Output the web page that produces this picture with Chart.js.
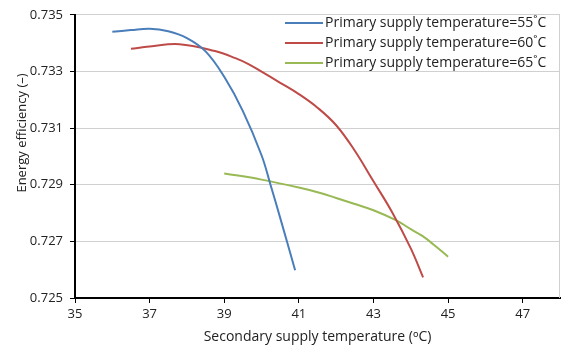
<!DOCTYPE html>
<html>
<head>
<meta charset="utf-8">
<script src="https://cdn.jsdelivr.net/npm/chart.js@4.4.1/dist/chart.umd.min.js"></script>
<style>
  html, body { margin: 0; padding: 0; background: #fff; }
  #wrap { width: 563px; height: 351px; }
</style>
</head>
<body>
<div id="wrap"><canvas id="effChart" width="563" height="351"></canvas></div>
<script>
// secondary supply temperature (°C) vs energy efficiency, one curve per primary supply temperature
const x55 = [36.0, 36.5, 37.0, 37.5, 38.0, 38.5, 39.0, 39.5, 40.0, 40.24, 40.5, 40.9];
const y55 = [0.73440, 0.73446, 0.73451, 0.73442, 0.73418, 0.73371, 0.73281, 0.73160, 0.73004, 0.72900, 0.72783, 0.72598];

const x60 = [36.5, 37.0, 37.8, 38.75, 39.3, 39.65, 40.0, 40.5, 41.0, 41.5, 42.0, 42.5, 43.0, 43.5, 44.0, 44.33];
const y60 = [0.73380, 0.73388, 0.73396, 0.73372, 0.73347, 0.73326, 0.73299, 0.73260, 0.73220, 0.73172, 0.73110, 0.73020, 0.72912, 0.72803, 0.72675, 0.72573];

const x65 = [39.0, 40.0, 41.0, 41.6, 42.0, 42.5, 43.0, 43.6, 44.0, 44.3, 44.6, 45.0];
const y65 = [0.72940, 0.72918, 0.72890, 0.72870, 0.72853, 0.72832, 0.72810, 0.72775, 0.72743, 0.72720, 0.72690, 0.72646];

const seriesLabels = [
    'Primary supply temperature=55˚C',
    'Primary supply temperature=60˚C',
    'Primary supply temperature=65˚C'
];
const xTicks = [35, 37, 39, 41, 43, 45, 47];
const yTicks = [0.725, 0.727, 0.729, 0.731, 0.733, 0.735];
const yTitle = 'Energy efficiency (–)';

const FONT = "'Open Sans', 'Noto Sans', sans-serif";
const TEXT = '#222';

const toPoints = (xs, ys) => xs.map((x, i) => ({ x: x, y: ys[i] }));

// right frame line, rotated y title and the legend inside the plot area
const extras = {
    id: 'extras',
    afterDraw(chart) {
        const ctx = chart.ctx;
        const area = chart.chartArea;
        ctx.save();
        ctx.strokeStyle = '#d0d0d0';
        ctx.lineWidth = 1;
        ctx.beginPath();
        ctx.moveTo(area.right - 0.5, area.top);
        ctx.lineTo(area.right - 0.5, area.bottom);
        ctx.stroke();

        ctx.fillStyle = TEXT;
        ctx.font = '13px ' + FONT;
        ctx.textAlign = 'center';
        ctx.textBaseline = 'middle';
        ctx.save();
        ctx.translate(22, 133);
        ctx.rotate(-Math.PI / 2);
        ctx.fillText(yTitle, 0, 0);
        ctx.restore();

        ctx.font = '14px ' + FONT;
        ctx.textAlign = 'left';
        chart.data.datasets.forEach((ds, i) => {
            const y = 23 + i * 20;
            ctx.strokeStyle = ds.borderColor;
            ctx.lineWidth = 2;
            ctx.beginPath();
            ctx.moveTo(285, y);
            ctx.lineTo(323, y);
            ctx.stroke();
            ctx.fillText(ds.label, 325, y);
        });
        ctx.restore();
    }
};

new Chart(document.getElementById('effChart'), {
    type: 'line',
    data: {
        datasets: [
            { label: seriesLabels[0], data: toPoints(x55, y55), borderColor: '#4a7ebb' },
            { label: seriesLabels[1], data: toPoints(x60, y60), borderColor: '#be4b48' },
            { label: seriesLabels[2], data: toPoints(x65, y65), borderColor: '#98b954' }
        ]
    },
    options: {
        responsive: false,
        animation: false,
        layout: { padding: { top: 11, right: 3 } },
        datasets: {
            line: {
                borderWidth: 2,
                tension: 0.4,
                pointRadius: 0,
                fill: false
            }
        },
        plugins: {
            legend: { display: false },
            tooltip: { enabled: false }
        },
        scales: {
            x: {
                type: 'linear',
                min: 35,
                max: 48,
                afterBuildTicks: scale => { scale.ticks = xTicks.map(v => ({ value: v })); },
                afterFit: scale => { scale.height = 53; },
                grid: {
                    drawOnChartArea: false,
                    tickColor: '#000',
                    tickLength: 5
                },
                border: { color: '#000', width: 2 },
                ticks: {
                    color: TEXT,
                    font: { family: FONT, size: 13 },
                    padding: 3,
                    maxRotation: 0
                },
                title: {
                    display: true,
                    text: 'Secondary supply temperature (ᵒC)',
                    color: TEXT,
                    font: { family: FONT, size: 14 },
                    padding: { top: 0, bottom: 6 }
                }
            },
            y: {
                min: 0.725,
                max: 0.735,
                afterBuildTicks: scale => { scale.ticks = yTicks.map(v => ({ value: v })); },
                afterFit: scale => { scale.width = 75; },
                grid: {
                    color: '#d0d0d0',
                    tickColor: '#000',
                    tickLength: 5
                },
                border: { color: '#000', width: 2 },
                ticks: {
                    color: TEXT,
                    font: { family: FONT, size: 13 },
                    padding: 7,
                    callback: v => v.toFixed(3)
                }
            }
        }
    },
    plugins: [extras]
});
</script>
</body>
</html>
